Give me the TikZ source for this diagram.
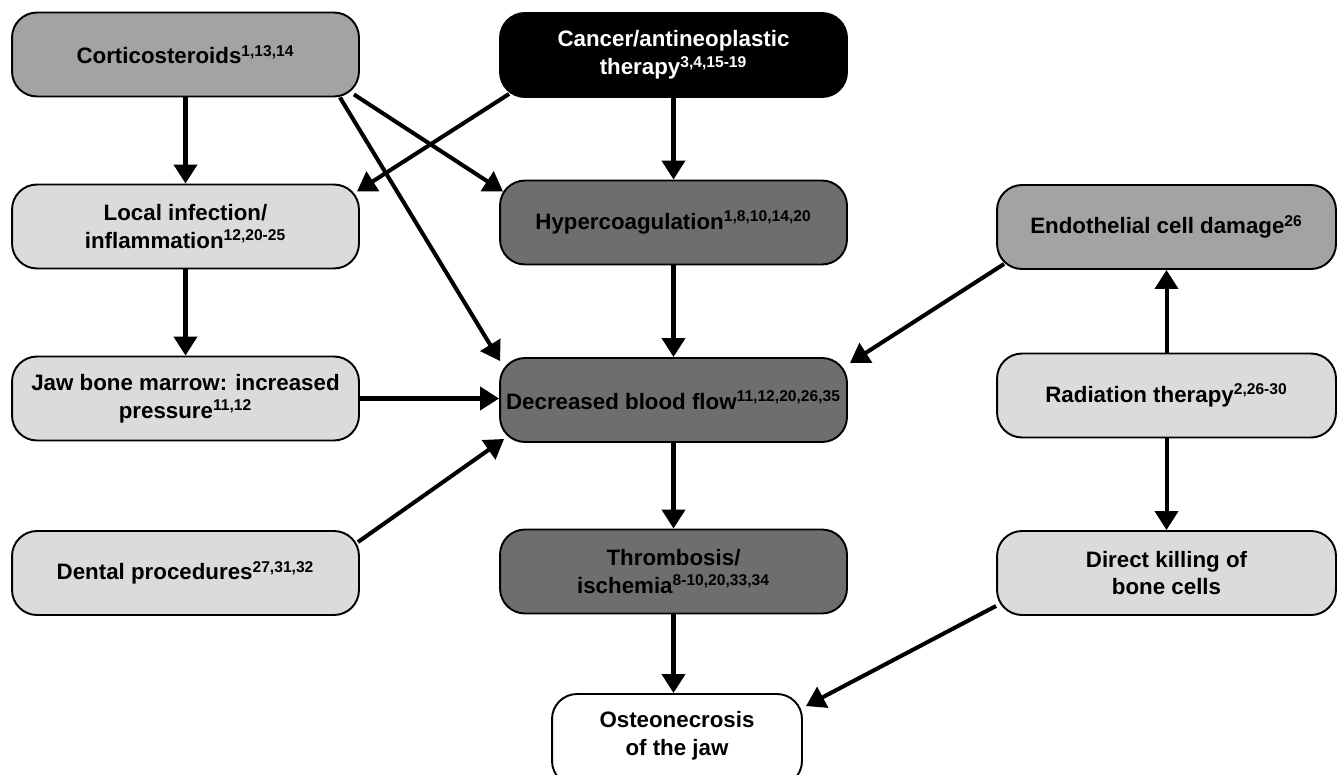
\documentclass[tikz,border=0pt]{standalone}
\usepackage{fontspec}
\setmainfont{Liberation Sans}
\usetikzlibrary{arrows.meta,calc}
\definecolor{midgray}{gray}{0.64}
\definecolor{darkgray}{gray}{0.43}
\definecolor{lightgray}{gray}{0.86}
\begin{document}
\begin{tikzpicture}[x=0.02cm, y=-0.02cm,
		box/.style={draw, line width=1.1pt, rounded corners=0.5cm, align=center,
			font=\fontsize{12.7}{15.9}\selectfont\bfseries, inner sep=2pt},
		leftbox/.style={box, minimum width=6.94cm, minimum height=1.68cm},
		midbox/.style={box, minimum width=6.94cm, minimum height=1.68cm},
		rightbox/.style={box, minimum width=6.78cm, minimum height=1.68cm},
		arr/.style={-{Triangle[length=0.38cm,width=0.46cm]}, line width=2.3pt}]
	\useasboundingbox (0,0) rectangle (1337,774);
	% top row
	\node[leftbox, fill=midgray] (cort) at (185.5,54.5) {Corticosteroids\textsuperscript{1,13,14}};
	\node[midbox, fill=black, text=white] (cancer) at (673.5,55) {Cancer/antineoplastic\\therapy\textsuperscript{3,4,15-19}};
	% second row
	\node[leftbox, fill=lightgray] (infect) at (185.5,226.5) {Local infection/\\inflammation\textsuperscript{12,20-25}};
	\node[midbox, fill=darkgray] (hyper) at (673.5,222.5) {Hypercoagulation\textsuperscript{1,8,10,14,20}};
	\node[rightbox, fill=midgray] (endo) at (1166.5,227) {Endothelial cell damage\textsuperscript{26}};
	% third row
	\node[leftbox, fill=lightgray] (marrow) at (185.5,398.5) {Jaw bone marrow: increased\\pressure\textsuperscript{11,12}};
	\node[midbox, fill=darkgray] (flow) at (673.5,400) {Decreased blood flow\textsuperscript{11,12,20,26,35}};
	\node[rightbox, fill=lightgray] (radiation) at (1166.5,395.5) {Radiation therapy\textsuperscript{2,26-30}};
	% fourth row
	\node[leftbox, fill=lightgray] (dental) at (185.5,573) {Dental procedures\textsuperscript{27,31,32}};
	\node[midbox, fill=darkgray] (thromb) at (673.5,571.5) {Thrombosis/\\ischemia\textsuperscript{8-10,20,33,34}};
	\node[rightbox, fill=lightgray] (killing) at (1166.5,573) {Direct killing of\\bone cells};
	% outcome
	\node[box, fill=white, minimum width=5cm, minimum height=1.84cm, text depth=0.28cm] (onj) at (677,740) {Osteonecrosis\\of the jaw};
	% arrows
	\draw[arr] (cort.south) -- (infect.north);
	\draw[arr] ($(cort.south east)+(-6,-3)$) -- ($(hyper.north west)+(4,12)$);
	\draw[arr] ($(cort.south east)+(-20,0)$) -- ($(flow.north west)+(1,4)$);
	\draw[arr] ($(cancer.south west)+(10,-4)$) -- ($(infect.north east)+(-3,8)$);
	\draw[arr] (cancer.south) -- (hyper.north);
	\draw[arr] (infect.south) -- (marrow.north);
	\draw[arr] (hyper.south) -- (flow.north);
	\draw[arr] ($(endo.south west)+(8,-6)$) -- ($(flow.north east)+(2,6)$);
	\draw[arr] (marrow.east) -- (marrow.east -| flow.west);
	\draw[arr] ($(dental.north east)+(-2,12)$) -- ($(flow.south west)+(5,-4)$);
	\draw[arr] (flow.south) -- (thromb.north);
	\draw[arr] (radiation.north) -- (endo.south);
	\draw[arr] (radiation.south) -- (killing.north);
	\draw[arr] (thromb.south) -- (thromb.south |- onj.north);
	\draw[arr] ($(killing.south west)+(0,-10)$) -- ($(onj.north east)+(3,13)$);
\end{tikzpicture}
\end{document}
